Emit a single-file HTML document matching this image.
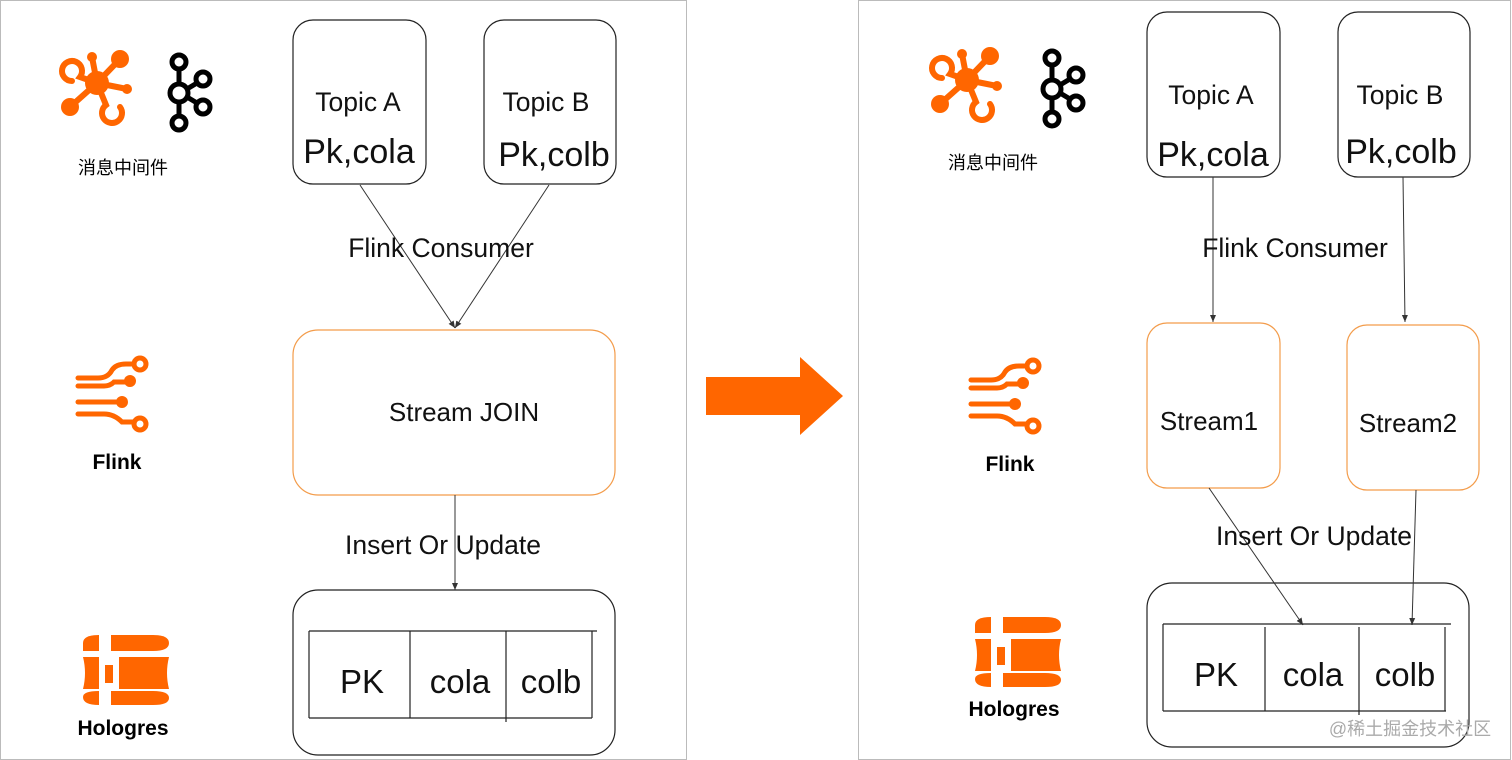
<!DOCTYPE html>
<html><head><meta charset="utf-8"><style>
html,body{margin:0;padding:0;background:#fff;}
svg{display:block;font-family:"Liberation Sans","Noto Sans CJK SC",sans-serif;}
</style></head><body>
<svg width="1512" height="760" viewBox="0 0 1512 760" xmlns="http://www.w3.org/2000/svg">
<defs>
<marker id="ah" markerWidth="8" markerHeight="8" refX="7" refY="4" orient="auto" markerUnits="userSpaceOnUse"><path d="M0,1 L7,4 L0,7 z" fill="#333"/></marker>
<g id="kafo">
 <g stroke="#f60" stroke-width="6" stroke-linecap="round" fill="none">
  <line x1="47" y1="38" x2="42" y2="12"/><line x1="47" y1="38" x2="70" y2="14"/><line x1="47" y1="38" x2="77" y2="44"/><line x1="47" y1="38" x2="20" y2="62"/>
  <path d="M47,38 L30,32 A10,10 0 1 0 22,36"/><path d="M47,38 L56,60 A10,10 0 1 0 70,62"/>
 </g>
 <circle cx="47" cy="38" r="12" fill="#f60"/><circle cx="42" cy="12" r="5" fill="#f60"/><circle cx="70" cy="14" r="9" fill="#f60"/><circle cx="77" cy="44" r="5" fill="#f60"/><circle cx="20" cy="62" r="9" fill="#f60"/>
</g>
<g id="kafb" fill="none" stroke="#000" stroke-width="5">
 <circle cx="14" cy="9" r="7"/><circle cx="14" cy="40" r="9"/><circle cx="14" cy="70" r="7"/><circle cx="38" cy="26" r="7"/><circle cx="38" cy="54" r="7"/>
 <line x1="14" y1="16" x2="14" y2="31"/><line x1="14" y1="49" x2="14" y2="63"/><line x1="22" y1="36" x2="32" y2="30"/><line x1="22" y1="44" x2="32" y2="50"/>
</g>
<g id="flk">
 <g stroke="#f60" stroke-width="5" fill="none" stroke-linecap="round">
  <path d="M0,16 H20 Q30,16 34,8 Q38,2 48,2 H56"/><path d="M0,24 H26 Q32,24 36,20 H50"/><path d="M0,40 H38"/><path d="M0,52 H26 Q36,52 44,60 H56"/>
 </g>
 <circle cx="62" cy="2" r="6" fill="#fff" stroke="#f60" stroke-width="5"/><circle cx="62" cy="62" r="6" fill="#fff" stroke="#f60" stroke-width="5"/>
 <circle cx="52" cy="19" r="6" fill="#f60"/><circle cx="44" cy="40" r="6" fill="#f60"/>
</g>
<g id="holo" fill="#f60">
 <path d="M0,8 Q0,0 16,0 H16 V16 H0 Z"/><path d="M28,0 H70 Q86,0 86,8 Q86,16 70,16 H28 Z"/>
 <path d="M0,22 H16 V54 H0 Q4,38 0,22Z"/><rect x="22" y="30" width="8" height="18"/><path d="M36,22 H86 Q82,38 86,54 H36 Z"/>
 <path d="M0,62 Q0,56 16,56 V70 Q0,70 0,62Z"/><path d="M28,56 H70 Q86,56 86,63 Q86,70 70,70 H28 Z"/>
</g>
</defs>
<rect x="0.5" y="0.5" width="686" height="759" fill="none" stroke="#bbb"/>
<rect x="858.5" y="0.5" width="652" height="759" fill="none" stroke="#bbb"/>

<use href="#kafo" x="50" y="45"/><use href="#kafb" x="165" y="53"/>
<text x="123" y="174" font-size="18" text-anchor="middle">消息中间件</text>
<use href="#flk" x="78" y="362"/>
<text x="117" y="469" font-size="21" font-weight="bold" text-anchor="middle">Flink</text>
<use href="#holo" x="83" y="635"/>
<text x="123" y="735" font-size="21" font-weight="bold" text-anchor="middle">Hologres</text>

<g fill="none" stroke="#222" stroke-width="1.2">
<rect x="293" y="20" width="133" height="164" rx="20"/>
<rect x="484" y="20" width="132" height="164" rx="20"/>
<rect x="293" y="590" width="322" height="165" rx="25"/>
</g>
<rect x="293" y="330" width="322" height="165" rx="25" fill="none" stroke="#f39c4b" stroke-width="1.2"/>
<g stroke="#333" stroke-width="1" marker-end="url(#ah)">
<line x1="360" y1="185" x2="455" y2="328"/><line x1="549" y1="185" x2="455" y2="328"/>
<line x1="455" y1="495" x2="455" y2="590"/>
</g>
<g stroke="#222" stroke-width="1.2">
<line x1="309" y1="631" x2="597" y2="631"/><line x1="309" y1="718" x2="592" y2="718"/>
<line x1="309" y1="631" x2="309" y2="718"/><line x1="410" y1="631" x2="410" y2="718"/><line x1="506" y1="631" x2="506" y2="722"/><line x1="592" y1="631" x2="592" y2="718"/>
</g>
<g text-anchor="middle" fill="#111">
<text x="358" y="111" font-size="26.5">Topic A</text><text x="359" y="163" font-size="34">Pk,cola</text>
<text x="546" y="111" font-size="26.5">Topic B</text><text x="554" y="166" font-size="34">Pk,colb</text>
<text x="441" y="257" font-size="26.5">Flink Consumer</text>
<text x="464" y="421" font-size="26">Stream JOIN</text>
<text x="443" y="554" font-size="26.5">Insert Or Update</text>
<text x="362" y="693" font-size="33">PK</text><text x="460" y="693" font-size="33">cola</text><text x="551" y="693" font-size="33">colb</text>
</g>

<path d="M706,377 H800 V357 L843,396 L800,435 V415 H706 Z" fill="#f60"/>

<use href="#kafo" x="920" y="42"/><use href="#kafb" x="1038" y="49"/>
<text x="993" y="169" font-size="18" text-anchor="middle">消息中间件</text>
<use href="#flk" x="971" y="364"/>
<text x="1010" y="471" font-size="21" font-weight="bold" text-anchor="middle">Flink</text>
<use href="#holo" x="975" y="617"/>
<text x="1014" y="716" font-size="21" font-weight="bold" text-anchor="middle">Hologres</text>

<g fill="none" stroke="#222" stroke-width="1.2">
<rect x="1147" y="12" width="133" height="165" rx="20"/>
<rect x="1338" y="12" width="132" height="165" rx="20"/>
<rect x="1147" y="583" width="322" height="164" rx="25"/>
</g>
<g fill="none" stroke="#f39c4b" stroke-width="1.2">
<rect x="1147" y="323" width="133" height="165" rx="20"/>
<rect x="1347" y="325" width="132" height="165" rx="20"/>
</g>
<g stroke="#333" stroke-width="1" marker-end="url(#ah)">
<line x1="1213" y1="177" x2="1213" y2="322"/><line x1="1403" y1="177" x2="1405" y2="322"/>
<line x1="1209" y1="488" x2="1303" y2="625"/><line x1="1416" y1="490" x2="1412" y2="625"/>
</g>
<g stroke="#222" stroke-width="1.2">
<line x1="1163" y1="624" x2="1451" y2="624"/><line x1="1163" y1="711" x2="1446" y2="711"/>
<line x1="1163" y1="624" x2="1163" y2="711"/><line x1="1265" y1="627" x2="1265" y2="711"/><line x1="1359" y1="627" x2="1359" y2="715"/><line x1="1445" y1="627" x2="1445" y2="711"/>
</g>
<g text-anchor="middle" fill="#111">
<text x="1211" y="104" font-size="26.5">Topic A</text><text x="1213" y="166" font-size="34">Pk,cola</text>
<text x="1400" y="104" font-size="26.5">Topic B</text><text x="1401" y="163" font-size="34">Pk,colb</text>
<text x="1295" y="257" font-size="26.5">Flink Consumer</text>
<text x="1209" y="430" font-size="26">Stream1</text>
<text x="1408" y="432" font-size="26">Stream2</text>
<text x="1314" y="545" font-size="26.5">Insert Or Update</text>
<text x="1216" y="686" font-size="33">PK</text><text x="1313" y="686" font-size="33">cola</text><text x="1405" y="686" font-size="33">colb</text>
</g>
<text x="1410" y="735" font-size="18" fill="#aaa" text-anchor="middle">@稀土掘金技术社区</text>
</svg>
</body></html>
